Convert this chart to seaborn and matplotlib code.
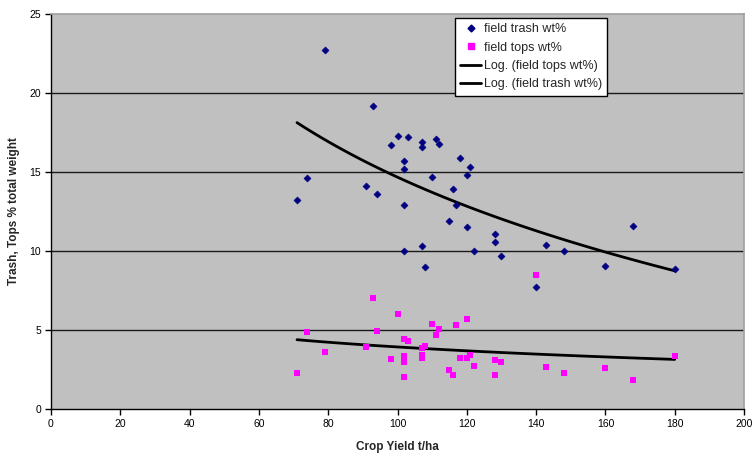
import numpy as np
import pandas as pd
import matplotlib
matplotlib.use("Agg")
import matplotlib.pyplot as plt
import seaborn as sns
from matplotlib.lines import Line2D

# ---- data ----
trash_yield = [79, 93, 100, 103, 98, 107, 107, 111, 112, 102, 102, 118, 121, 120, 110,
               74, 71, 91, 94, 116, 102, 117, 115, 120, 128, 128, 102, 107, 122, 130,
               108, 168, 143, 148, 160, 180, 140]
trash_wt = [22.7, 19.2, 17.3, 17.2, 16.7, 16.9, 16.6, 17.1, 16.8, 15.7, 15.2, 15.9, 15.3,
            14.8, 14.7, 14.6, 13.2, 14.1, 13.6, 13.9, 12.9, 12.9, 11.9, 11.5, 11.05, 10.6,
            10.0, 10.3, 10.0, 9.7, 9.0, 11.6, 10.4, 10.0, 9.05, 8.85, 7.7]

tops_yield = [93, 100, 120, 110, 117, 112, 74, 94, 111, 102, 103, 108, 107, 91, 79, 98,
              102, 102, 102, 107, 107, 118, 120, 121, 128, 130, 122, 115, 116, 128, 71,
              102, 140, 143, 148, 160, 168, 180]
tops_wt = [7.05, 6.0, 5.7, 5.35, 5.3, 5.05, 4.85, 4.95, 4.7, 4.4, 4.3, 4.0, 3.85, 3.9,
           3.6, 3.15, 3.35, 3.15, 2.95, 3.4, 3.25, 3.25, 3.25, 3.4, 3.1, 3.0, 2.75, 2.5,
           2.15, 2.15, 2.25, 2.05, 8.5, 2.65, 2.3, 2.6, 1.85, 3.35]

x_ticks = list(range(0, 201, 20))
y_ticks = list(range(0, 26, 5))

trash = pd.DataFrame({"yield": trash_yield, "wt": trash_wt})
tops = pd.DataFrame({"yield": tops_yield, "wt": tops_wt})

sns.set_style("white")
plt.rcParams["font.family"] = ["Liberation Sans", "DejaVu Sans"]

fig = plt.figure(figsize=(7.53, 4.55), dpi=100)
ax = fig.add_axes([51 / 753, 1 - 409 / 455, (744 - 51) / 753, (409 - 14) / 455])
ax.set_facecolor("#C0C0C0")

for yv in y_ticks[1:-1]:
    ax.axhline(yv, color="#1a1a1a", lw=1.0, zorder=1)

sns.regplot(data=trash, x="yield", y="wt", logx=True, ci=None, scatter=False,
            color="black", line_kws={"lw": 2.0, "zorder": 3}, ax=ax)
sns.regplot(data=tops, x="yield", y="wt", logx=True, ci=None, scatter=False,
            color="black", line_kws={"lw": 2.0, "zorder": 3}, ax=ax)

sns.scatterplot(data=trash, x="yield", y="wt", marker="D", s=13, color="#000080",
                edgecolor="#000080", linewidth=0.4, ax=ax, zorder=4)
sns.scatterplot(data=tops, x="yield", y="wt", marker="s", s=20, color="#FF00FF",
                edgecolor="#FF00FF", linewidth=0, ax=ax, zorder=4)

ax.set_xlim(0, 200)
ax.set_ylim(0, 25)
ax.set_xticks(x_ticks)
ax.set_yticks(y_ticks)
ax.tick_params(axis="both", direction="out", length=4, width=1, color="black",
               labelsize=7.5, labelcolor="black", pad=3,
               bottom=True, left=True)
for side in ["top", "right"]:
    ax.spines[side].set_color("#A0A0A0")
    ax.spines[side].set_linewidth(1.2)
for side in ["left", "bottom"]:
    ax.spines[side].set_color("black")
    ax.spines[side].set_linewidth(1.0)

ax.set_xlabel("Crop Yield t/ha", fontsize=8.5, fontweight="bold", labelpad=9)
ax.set_ylabel("Trash, Tops % total weight", fontsize=8.5, fontweight="bold", labelpad=7)

handles = [
    Line2D([], [], ls="none", marker="D", ms=3.5, color="#000080"),
    Line2D([], [], ls="none", marker="s", ms=4.2, color="#FF00FF"),
    Line2D([], [], color="black", lw=2),
    Line2D([], [], color="black", lw=2),
]
labels = ["field trash wt%", "field tops wt%", "Log. (field tops wt%)", "Log. (field trash wt%)"]
leg = ax.legend(handles, labels, loc="upper left",
                bbox_to_anchor=((455 - 51) / 693, 1 - 4 / 395),
                frameon=True, fancybox=False, fontsize=9, handlelength=1.7,
                handletextpad=0.2, borderpad=0.4, labelspacing=0.52, borderaxespad=0)
leg.get_frame().set_edgecolor("black")
leg.get_frame().set_linewidth(1.0)
leg.get_frame().set_facecolor("white")
leg.get_frame().set_alpha(1)

fig.savefig("out.png", dpi=100)
